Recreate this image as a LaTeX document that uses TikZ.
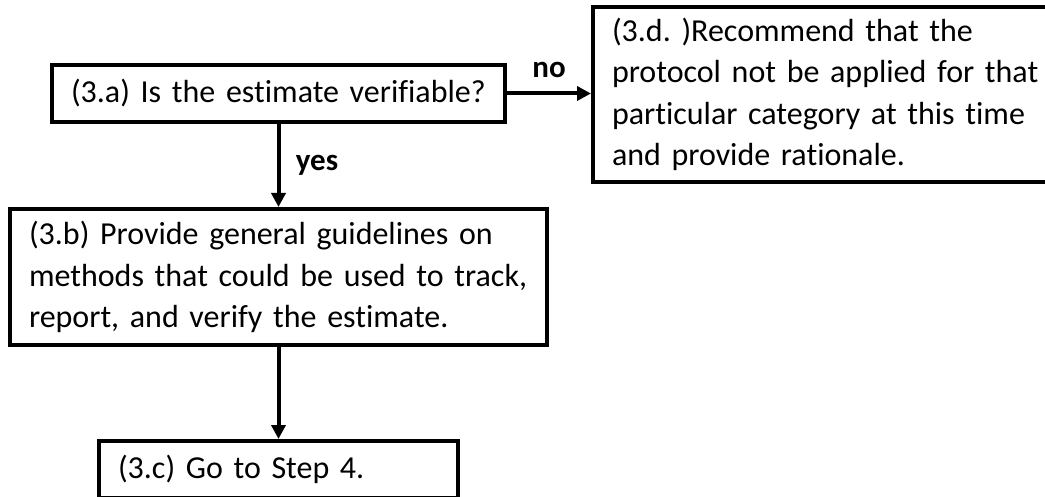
\documentclass[tikz,border=0pt]{standalone}
\usepackage{fontspec}
\setmainfont{Carlito}[Ligatures=NoCommon]
\usetikzlibrary{arrows.meta,positioning}
\frenchspacing
\DeclareRobustCommand\boxfont{\fontsize{32}{41.5}\selectfont\spaceskip=0.15em\relax}

\begin{document}
\begin{tikzpicture}[x=1pt,y=-1pt,
    box/.style={draw,line width=4pt,align=left,inner xsep=19pt,inner ysep=0pt,
      font=\boxfont},
    link/.style={line width=4pt,-{Triangle[length=14pt,width=14pt]}},
    lbl/.style={font=\fontsize{31}{34}\selectfont\bfseries}]
    \useasboundingbox (0,0) rectangle (1045,497);
    \node[box,text width=415pt,minimum height=57pt] (a) at (278.5,93.5) {(3.a) Is the estimate verifiable?};
    \node[box,text width=499pt,minimum height=136pt] (b) at (278.5,277) {(3.b) Provide general guidelines on\\methods that could be used to track,\\report, and verify the estimate.};
    \node[box,text width=321pt,minimum height=57pt] (c) at (278.5,469.5) {(3.c) Go to Step 4.};
    \node[box,text width=429pt,minimum height=175pt] (d) at (826.5,94.5) {(3.d. )Recommend that the\\protocol not be applied for that\\particular category at this time\\and provide rationale.};
    \draw[link] (a.east) -- node[lbl,above=10pt] {no} (a.east -| d.west);
    \draw[link] (a) -- node[lbl,right=12pt] {yes} (b);
    \draw[link] (b) -- (c);
\end{tikzpicture}
\end{document}
